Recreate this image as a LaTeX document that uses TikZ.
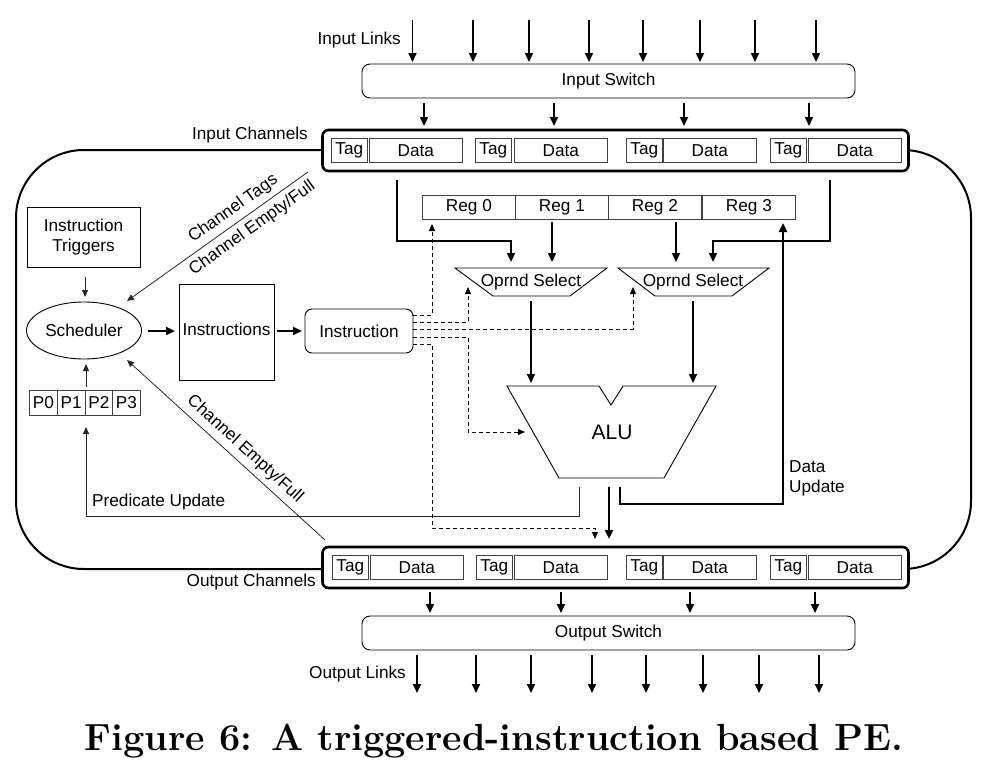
\documentclass[tikz,border=0pt]{standalone}
\usepackage{fontspec}
\newfontfamily\arialf{Liberation Sans}
\usetikzlibrary{arrows.meta,shapes.geometric}
\begin{document}
\begin{tikzpicture}[x=1pt,y=-1pt,
  every node/.style={font=\arialf\fontsize{17.2}{19.5}\selectfont, inner sep=0pt},
  thinl/.style={line width=0.8pt, draw=black!85},
  thickl/.style={line width=2.2pt},
  arr/.style={-{Triangle[length=7pt,width=6pt]}},
  arrT/.style={-{Triangle[length=9pt,width=8pt]}},
  dsh/.style={line width=0.9pt, dash pattern=on 4pt off 3pt},
  cell/.style={draw=black!75, line width=0.7pt, minimum height=24pt, anchor=north west},
  chbox/.style={draw, line width=2.6pt, rounded corners=6pt, fill=white, minimum width=586pt, minimum height=41pt},
  swbox/.style={draw, line width=0.9pt, rounded corners=8pt, minimum width=493pt, minimum height=34pt},
  plainbox/.style={draw, line width=0.9pt},
  lbl/.style={anchor=east}
]
\useasboundingbox (0,0) rectangle (988,763);

% outer boundary
\draw[line width=2pt, rounded corners=68pt] (16,150) rectangle (971,569);

% input links
\node[lbl] (inlinks) at (401,40) {Input Links};
\foreach \x [count=\i] in {412.5,473,529,589,643,700,755,816}{
  \coordinate (il\i) at (\x,20);
  \coordinate (ilt\i) at (\x,62);
  \draw[arrT,line width=1.8pt] (il\i) -- (ilt\i);
}
\node[swbox] (inswitch) at (608.5,81) {Input Switch};

% input channels
\node[chbox] (inch) at (615.5,150.5) {};
\node[lbl] (inchl) at (308,135) {Input Channels};
\foreach \tx/\dx [count=\i] in {331/369,475/514,626/663,770/808}{
  \node[cell, minimum width=36pt] (it\i) at (\tx,138) {Tag};
  \node[cell, minimum width=93pt] (id\i) at (\dx,138) {Data};
}
\foreach \x [count=\i] in {424,554,684,809}{
  \coordinate (isa\i) at (\x,103);
  \coordinate (isb\i) at (\x,126);
  \draw[line width=1.8pt,arrT] (isa\i) -- (isb\i);
}

% output channels
\node[chbox] (outch) at (615.5,567.5) {};
\node[lbl] (outchl) at (316,582) {Output Channels};
\foreach \tx/\dx [count=\i] in {332/370,476/514,626/663,770/808}{
  \node[cell, minimum width=36pt] (ot\i) at (\tx,555) {Tag};
  \node[cell, minimum width=93pt] (od\i) at (\dx,555) {Data};
}
\node[swbox] (outswitch) at (608.5,633) {Output Switch};
\foreach \x [count=\i] in {430,561,690,815}{
  \coordinate (osa\i) at (\x,592);
  \coordinate (osb\i) at (\x,613);
  \draw[line width=1.8pt,arrT] (osa\i) -- (osb\i);
}
\node[lbl] (outlinks) at (406,674) {Output Links};
\foreach \x [count=\i] in {417,476,531,592,646,703,759,819}{
  \coordinate (ol\i) at (\x,655);
  \coordinate (olt\i) at (\x,693);
  \draw[line width=1.8pt,arrT] (ol\i) -- (olt\i);
}

% left side
\node[plainbox, minimum width=113pt, minimum height=60pt, align=center] (trig) at (83.5,237) {Instruction\\Triggers};
\node[draw, line width=0.9pt, ellipse, minimum width=115pt, minimum height=57pt] (sched) at (84,330.5) {Scheduler};
\node[plainbox, minimum width=95pt, minimum height=96pt] (instrs) at (226.5,332) {};
\node (instrst) at (226.5,329) {Instructions};
\node[draw, line width=0.9pt, rounded corners=7pt, minimum width=108pt, minimum height=44pt] (instr) at (359,331) {Instruction};
\foreach \x [count=\i] in {43.4,71.1,98.9,126.4}{
  \pgfmathtruncatemacro{\j}{\i-1}
  \node[draw=black!75, line width=0.7pt, minimum width=27.7pt, minimum height=25pt] (p\i) at (\x,402.5) {P\j};
}
\coordinate (ta) at (85,277);
\coordinate (tb) at (85,297);
\draw[thinl,arr] (ta) -- (tb);
\coordinate (sa) at (148,331);
\coordinate (sb) at (175,331);
\draw[line width=2.2pt,arrT] (sa) -- (sb);
\coordinate (ia) at (277,331);
\coordinate (ib) at (302,331);
\draw[line width=2.2pt,arrT] (ia) -- (ib);
\coordinate (pa) at (86,387);
\coordinate (pb) at (86,364);
\draw[thinl,arr] (pa) -- (pb);

% channel tags arrows
\coordinate (cta) at (308,172);
\coordinate (ctb) at (127,301);
\draw[thinl,arr] (cta) -- node[sloped, pos=0.37, above=5pt] (ctl) {Channel Tags}
  node[sloped, pos=0.35, below=5pt] (cel) {Channel Empty/Full} (ctb);
\coordinate (cea) at (325,540);
\coordinate (ceb) at (127,360);
\draw[thinl,arr] (cea) -- node[sloped, pos=0.45, above=5pt] (cel2) {Channel Empty/Full} (ceb);

% registers
\foreach \x [count=\i] in {422,515,608,702}{
  \pgfmathtruncatemacro{\j}{\i-1}
  \node[draw=black!75, line width=0.8pt, minimum width=93pt, minimum height=24pt, anchor=north west] (r\i) at (\x,195) {Reg \j};
}

% operand selects
\draw[line width=0.9pt] (455,268) -- (607,268) -- (570,296) -- (493,296) -- cycle;
\node (os1) at (531,282) {Oprnd Select};
\draw[line width=0.9pt] (618,268) -- (769,268) -- (732,296) -- (655,296) -- cycle;
\node (os2) at (693,282) {Oprnd Select};

% ALU
\draw[line width=0.9pt] (507,386) -- (599,386) -- (611,405) -- (623,386) -- (716,386) -- (664,478) -- (559,478) -- cycle;
\node[font=\arialf\fontsize{21}{23}\selectfont] (alu) at (612,432) {ALU};

% thick data paths
\coordinate (d1a) at (397,180);
\coordinate (d1b) at (511,262);
\draw[thickl,arrT] (d1a) |- (511,241) -- (d1b);
\coordinate (d2a) at (830,180);
\coordinate (d2b) at (713,262);
\draw[thickl,arrT] (d2a) |- (713,241) -- (d2b);
\coordinate (r1a) at (552,222);
\coordinate (r1b) at (552,262);
\draw[line width=2pt,arrT] (r1a) -- (r1b);
\coordinate (r2a) at (676,222);
\coordinate (r2b) at (676,262);
\draw[line width=2pt,arrT] (r2a) -- (r2b);
\coordinate (o1a) at (531,301);
\coordinate (o1b) at (531,383);
\draw[line width=2pt,arrT] (o1a) -- (o1b);
\coordinate (o2a) at (693,301);
\coordinate (o2b) at (693,383);
\draw[line width=2pt,arrT] (o2a) -- (o2b);

% ALU outputs
\coordinate (pu1) at (579,487);
\coordinate (pu2) at (86,427);
\draw[thinl,arr] (pu1) -- (579,516) -- (86,516) -- (pu2);
\node[anchor=west] (pul) at (92,502) {Predicate Update};
\coordinate (ao1) at (609,487);
\coordinate (ao2) at (609,539);
\draw[line width=2.2pt,arrT] (ao1) -- (ao2);
\coordinate (du1) at (620,487);
\coordinate (du2) at (783,223);
\draw[thickl,arrT] (du1) -- (620,504) -- (783,504) -- (du2);
\node[anchor=west, align=left] (dul) at (789,478.5) {Data\\Update};

% dashed control lines
\coordinate (c1) at (413,315);
\coordinate (c2) at (413,322);
\coordinate (c3) at (413,329);
\coordinate (c4) at (413,337);
\coordinate (c5) at (413,344);
\draw[dsh,arr] (c1) -| (432,224);
\draw[dsh,arr] (c2) -| (468,287);
\draw[dsh,arr] (c3) -| (633,287);
\draw[dsh,arr] (c4) -| (468,432) -- (525,432);
\draw[dsh,arr] (c5) -| (432,528) -| (595,539);

% caption
\node[font=\rmfamily\bfseries\fontsize{37.8}{41}\selectfont] (cap) at (494,741) {Figure 6: A triggered-instruction based PE.};
\end{tikzpicture}
\end{document}
